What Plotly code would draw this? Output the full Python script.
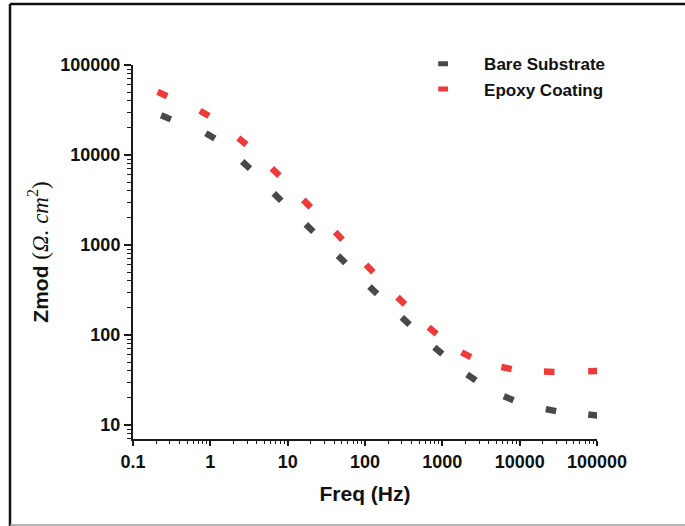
import numpy as np
import plotly.graph_objects as go

# ---- data ----
freq_bare = [0.267, 1.0, 2.9, 7.4, 19.2, 50, 128, 336, 888, 2380, 7210, 25400, 90000]
zmod_bare = [26200, 16300, 7730, 3410, 1540, 692, 314, 143, 67, 33.7, 19.8, 14.6, 12.9]

freq_epoxy = [0.24, 0.84, 2.6, 6.98, 17.8, 45.9, 115, 294, 750, 2040, 6760, 24100, 90000]
zmod_epoxy = [47600, 29000, 14200, 6460, 2880, 1262, 548, 240, 112, 60.4, 42.9, 39.0, 39.6]

x_tickvals = [0.1, 1, 10, 100, 1000, 10000, 100000]
x_ticktext = ["0.1", "1", "10", "100", "1000", "10000", "100000"]
y_tickvals = [10, 100, 1000, 10000, 100000]
y_ticktext = ["10", "100", "1000", "10000", "100000"]

# ---- layout constants ----
W, H = 685, 526
ML, MR, MT, MB = 133, 88, 65, 87
XR = [-1, 5]
YR = [np.log10(6.98), 5.0]
px_x = (W - ML - MR) / (XR[1] - XR[0])
px_y = (H - MT - MB) / (YR[1] - YR[0])


def dash_angles(f, z):
    lx, ly = np.log10(f), np.log10(z)
    ang = []
    n = len(lx)
    for i in range(n):
        a, b = max(i - 1, 0), min(i + 1, n - 1)
        dx = (lx[b] - lx[a]) * px_x
        dy = -(ly[b] - ly[a]) * px_y
        ang.append(float(np.degrees(np.arctan2(dy, dx))))
    return ang


GRAY = "#484848"
RED = "#EF3A3A"

fig = go.Figure()
for name, f, z, c in [("Bare Substrate", freq_bare, zmod_bare, GRAY),
                      ("Epoxy Coating", freq_epoxy, zmod_epoxy, RED)]:
    fig.add_trace(go.Scatter(
        x=f, y=z, mode="markers", name=name, showlegend=False,
        marker=dict(symbol="line-ew", size=7.5, angle=dash_angles(f, z),
                    color=c, line=dict(color=c, width=6.5)),
    ))
    # legend entry with a horizontal dash
    fig.add_trace(go.Scatter(
        x=[None], y=[None], mode="markers", name=name, showlegend=True,
        marker=dict(symbol="line-ew", size=7, color=c,
                    line=dict(color=c, width=6)),
    ))

minor_vals = [m * 10.0 ** e for e in range(-2, 6) for m in range(2, 10)]

axis_common = dict(type="log", showgrid=False, zeroline=False, showline=True,
                   linecolor="#1a1a1a", linewidth=2, ticks="outside",
                   tickcolor="#1a1a1a", tickwidth=1.5,
                   tickfont=dict(family="Liberation Sans, Arial", size=18,
                                 color="#111111", weight="bold"),
                   mirror=False)

fig.update_layout(
    width=W, height=H,
    margin=dict(l=ML, r=MR, t=MT, b=MB),
    paper_bgcolor="white", plot_bgcolor="white",
    xaxis=dict(axis_common, range=XR, tickmode="array", tickvals=x_tickvals,
               ticktext=x_ticktext, ticklen=5,
               minor=dict(tickmode="array", tickvals=minor_vals, ticks="outside",
                          ticklen=3, tickwidth=1.2, tickcolor="#1a1a1a", showgrid=False),
               title=dict(text="Freq (Hz)", standoff=16,
                          font=dict(family="Liberation Sans, Arial", size=21,
                                    color="#111111", weight="bold"))),
    yaxis=dict(axis_common, range=YR, tickmode="array", tickvals=y_tickvals,
               ticktext=y_ticktext, ticklen=7,
               minor=dict(tickmode="array", tickvals=minor_vals, ticks="outside",
                          ticklen=4, tickwidth=1.2, tickcolor="#1a1a1a", showgrid=False),
               title=dict(text="<b>Zmod</b> <span style=\"font-family:'Liberation Serif';font-size:23px\">(<i>Ω. cm</i><sup>2</sup>)</span>",
                          standoff=6,
                          font=dict(family="Liberation Sans, Arial", size=21,
                                    color="#111111"))),
    legend=dict(x=0.58, y=1.05, xanchor="left", yanchor="top",
                bgcolor="rgba(0,0,0,0)", itemwidth=72,
                font=dict(family="Liberation Sans, Arial", size=17,
                          color="#111111", weight="bold"),
                tracegroupgap=0),
    showlegend=True,
)

# outer frame of the figure
fig.add_shape(type="line", xref="paper", yref="paper",
              x0=(10 - ML) / (W - ML - MR), x1=(W + 5 - ML) / (W - ML - MR),
              y0=(H - MB - 4) / (H - MT - MB), y1=(H - MB - 4) / (H - MT - MB),
              line=dict(color="#111111", width=2.5))
fig.add_shape(type="line", xref="paper", yref="paper",
              x0=(10 - ML) / (W - ML - MR), x1=(10 - ML) / (W - ML - MR),
              y0=(H - MB - 4) / (H - MT - MB), y1=(H - MB - 526) / (H - MT - MB),
              line=dict(color="#111111", width=2.5))
fig.add_shape(type="line", xref="paper", yref="paper",
              x0=(10 - ML) / (W - ML - MR), x1=(W + 5 - ML) / (W - ML - MR),
              y0=(H - MB - 525) / (H - MT - MB), y1=(H - MB - 525) / (H - MT - MB),
              line=dict(color="#999999", width=1.5))

fig.write_html("out.html")
